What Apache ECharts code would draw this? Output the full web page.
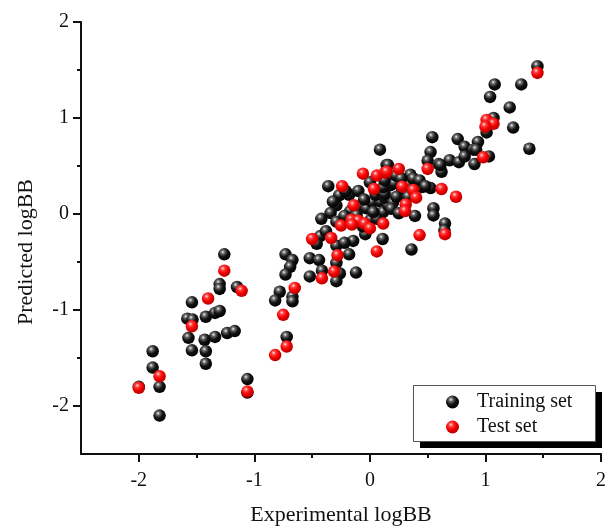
<!DOCTYPE html>
<html><head><meta charset="utf-8">
<script src="https://cdn.jsdelivr.net/npm/echarts@6/dist/echarts.min.js"></script>
<style>html,body{margin:0;padding:0;background:#fff}#c{width:607px;height:527px}</style>
</head><body><div id="c"></div>
<script>
const seriesNames = ['Training set', 'Test set'];
const trainingSet = [
[-1.26,-0.42],[-1.30,-0.73],[-1.30,-0.78],[-1.15,-0.76],[-1.54,-0.92],[-1.58,-1.09],[-1.535,-1.10],[-1.42,-1.07],[-1.34,-1.03],[-1.30,-1.01],
[-1.57,-1.29],[-1.43,-1.31],[-1.34,-1.28],[-1.235,-1.24],[-1.17,-1.22],[-1.54,-1.42],[-1.42,-1.43],[-1.42,-1.56],[-1.88,-1.43],[-1.88,-1.60],
[-1.82,-1.80],[-2.0,-1.80],[-1.82,-2.10],[-1.06,-1.72],[-1.06,-1.86],
[-0.73,-0.42],[-0.67,-0.48],[-0.69,-0.55],[-0.73,-0.63],[-0.78,-0.81],[-0.82,-0.90],[-0.67,-0.86],[-0.67,-0.91],[-0.72,-1.28],
[-0.43,-0.23],[-0.46,-0.31],[-0.29,-0.33],[-0.145,-0.28],[-0.18,-0.42],[-0.29,-0.51],[-0.52,-0.46],[-0.44,-0.48],[-0.415,-0.59],[-0.52,-0.65],
[-0.26,-0.62],[-0.29,-0.70],[-0.12,-0.61],[-0.38,-0.18],[-0.22,-0.30],
[0.087,0.67],[0.145,0.51],[-0.36,0.29],[0.0,0.33],[-0.18,0.20],[-0.10,0.24],[-0.29,0.09],[-0.34,0.01],[-0.42,-0.05],[-0.29,-0.08],
[0.01,-0.055],[-0.04,-0.21],[0.11,-0.26],[-0.087,0.083],[-0.17,0.03],[-0.115,-0.01],[-0.03,0.06],[0.02,0.125],[0.09,0.13],[0.115,0.02],
[0.16,0.09],[0.06,-0.05],[-0.265,0.195],[-0.21,0.24],[-0.32,0.13],[0.05,0.20],[0.08,0.25],[0.13,0.17],[-0.05,0.15],[0.03,0.02],
[-0.22,-0.02],[-0.06,-0.13],[0.20,0.12],[0.28,0.25],[0.33,0.30],[0.18,0.30],
[0.156,0.51],[0.21,0.32],[0.127,0.21],[0.23,0.18],[0.33,0.18],[0.115,0.28],[0.185,0.055],[0.25,0.007],[0.39,-0.02],[0.55,0.06],
[0.55,-0.015],[0.65,-0.10],[0.645,-0.17],[0.36,-0.37],[0.525,0.27],[0.45,0.28],[0.225,0.40],[0.35,0.41],[0.375,0.37],[0.27,0.37],
[0.43,0.35],[0.48,0.29],[0.127,0.35],
[0.54,0.80],[0.76,0.78],[0.935,0.75],[0.525,0.645],[0.82,0.70],[1.03,0.60],[0.50,0.555],[0.595,0.52],[0.69,0.56],[0.77,0.54],
[0.905,0.52],[0.895,0.67],[0.82,0.60],[0.62,0.44],[0.92,0.67],[0.61,0.51],
[1.45,1.54],[1.08,1.35],[1.31,1.35],[1.04,1.22],[1.21,1.11],[1.07,1.0],[1.01,0.85],[1.24,0.90],[1.38,0.68]
];
const testSet = [
[-1.26,-0.59],[-1.11,-0.80],[-1.40,-0.88],[-1.54,-1.17],[-1.82,-1.69],[-2.0,-1.81],[-1.06,-1.85],
[-0.65,-0.77],[-0.75,-1.05],[-0.72,-1.38],[-0.82,-1.47],
[-0.50,-0.26],[-0.335,-0.25],[-0.28,-0.43],[-0.415,-0.67],[-0.31,-0.60],
[-0.06,0.42],[0.06,0.40],[0.13,0.43],[-0.24,0.29],[0.035,0.26],[-0.14,0.09],[-0.25,-0.12],[-0.16,-0.06],[-0.10,-0.07],
[-0.155,-0.11],[-0.046,-0.10],[0.0,-0.15],[0.115,-0.10],[0.06,-0.39],
[1.01,0.98],[1.07,0.94],[1.0,0.91],[0.98,0.59],[0.50,0.47],[0.25,0.47],[0.145,0.44],[0.28,0.285],[0.375,0.25],[0.40,0.17],
[0.62,0.26],[0.745,0.18],[0.31,0.10],[0.305,0.03],[0.43,-0.22],[0.65,-0.21],[1.45,1.47]
];
const xMajorTicks = [-2, -1, 0, 1, 2];
const xMinorTicks = [-1.5, -0.5, 0.5, 1.5];
const yMajorTicks = [-2, -1, 0, 1, 2];
const yMinorTicks = [-1.5, -0.5, 0.5, 1.5];
const axisRange = [-2.5, 2];
const xTitle = 'Experimental logBB';
const yTitle = 'Predicted logBB';

const FONT = '"Liberation Serif", "Times New Roman", serif';
const blackBall = {type:'radial', x:0.38, y:0.32, r:0.68, colorStops:[
  {offset:0, color:'#f4f4f4'},{offset:0.22, color:'#6a6a6a'},{offset:0.55, color:'#141414'},{offset:1, color:'#000'}]};
const redBall = {type:'radial', x:0.38, y:0.32, r:0.68, colorStops:[
  {offset:0, color:'#ffe4e4'},{offset:0.25, color:'#ff3a3a'},{offset:0.6, color:'#f00000'},{offset:1, color:'#b80000'}]};

function fmt(v){ return (v < 0 ? '-' : '') + Math.abs(v); }

const axisCommon = (name, isY) => ({
  type:'value', min:axisRange[0], max:axisRange[1], interval:0.5,
  name: name, nameLocation:'middle', nameGap: isY ? 44 : 50, nameRotate: isY ? 90 : 0,
  nameTextStyle:{fontFamily:FONT, fontSize:22, color:'#111', padding: isY ? [0,28,0,0] : 0},
  axisLine:{show:true, onZero:false, lineStyle:{color:'#111', width:2}},
  axisTick:{show:true, inside:false, length:8, lineStyle:{color:'#111', width:2}, customValues: isY ? yMajorTicks : xMajorTicks},
  axisLabel:{show:true, margin: isY ? 12 : 17, fontFamily:FONT, fontSize:20, color:'#111', customValues: isY ? yMajorTicks : xMajorTicks, formatter: fmt},
  splitLine:{show:false}
});
const axisMinor = (isY) => ({
  type:'value', min:axisRange[0], max:axisRange[1], interval:0.5, position: isY ? 'left' : 'bottom',
  axisLine:{show:false, onZero:false},
  axisTick:{show:true, inside:false, length:4, lineStyle:{color:'#111', width:2}, customValues: isY ? yMinorTicks : xMinorTicks},
  axisLabel:{show:false}, splitLine:{show:false}
});

const chart = echarts.init(document.getElementById('c'), null, {renderer:'canvas'});
chart.setOption({
  animation:false,
  backgroundColor:'#fff',
  grid:{left:81, right:6, top:22, bottom:73, containLabel:false, outerBoundsMode:'none'},
  xAxis:[axisCommon(xTitle,false), axisMinor(false)],
  yAxis:[axisCommon(yTitle,true), axisMinor(true)],
  graphic:[
    {type:'rect', left:420, top:392, shape:{width:182, height:56}, style:{fill:'#000'}, z:10},
    {type:'rect', left:413, top:385, shape:{width:182, height:56}, style:{fill:'#fff', stroke:'#555', lineWidth:1}, z:11}
  ],
  legend:{
    orient:'vertical', left:441, top:387, itemGap:5, itemWidth:13, itemHeight:13, icon:'circle', z:20,
    textStyle:{fontFamily:FONT, fontSize:20, color:'#111', padding:[0,0,0,13]},
    data: seriesNames
  },
  series:[
    {name:seriesNames[0], type:'scatter', xAxisIndex:0, yAxisIndex:0, data:trainingSet, symbolSize:12.5,
     itemStyle:{color:blackBall, opacity:1}},
    {name:seriesNames[1], type:'scatter', xAxisIndex:0, yAxisIndex:0, data:testSet, symbolSize:12.5,
     itemStyle:{color:redBall, opacity:1}}
  ]
});
</script></body></html>
